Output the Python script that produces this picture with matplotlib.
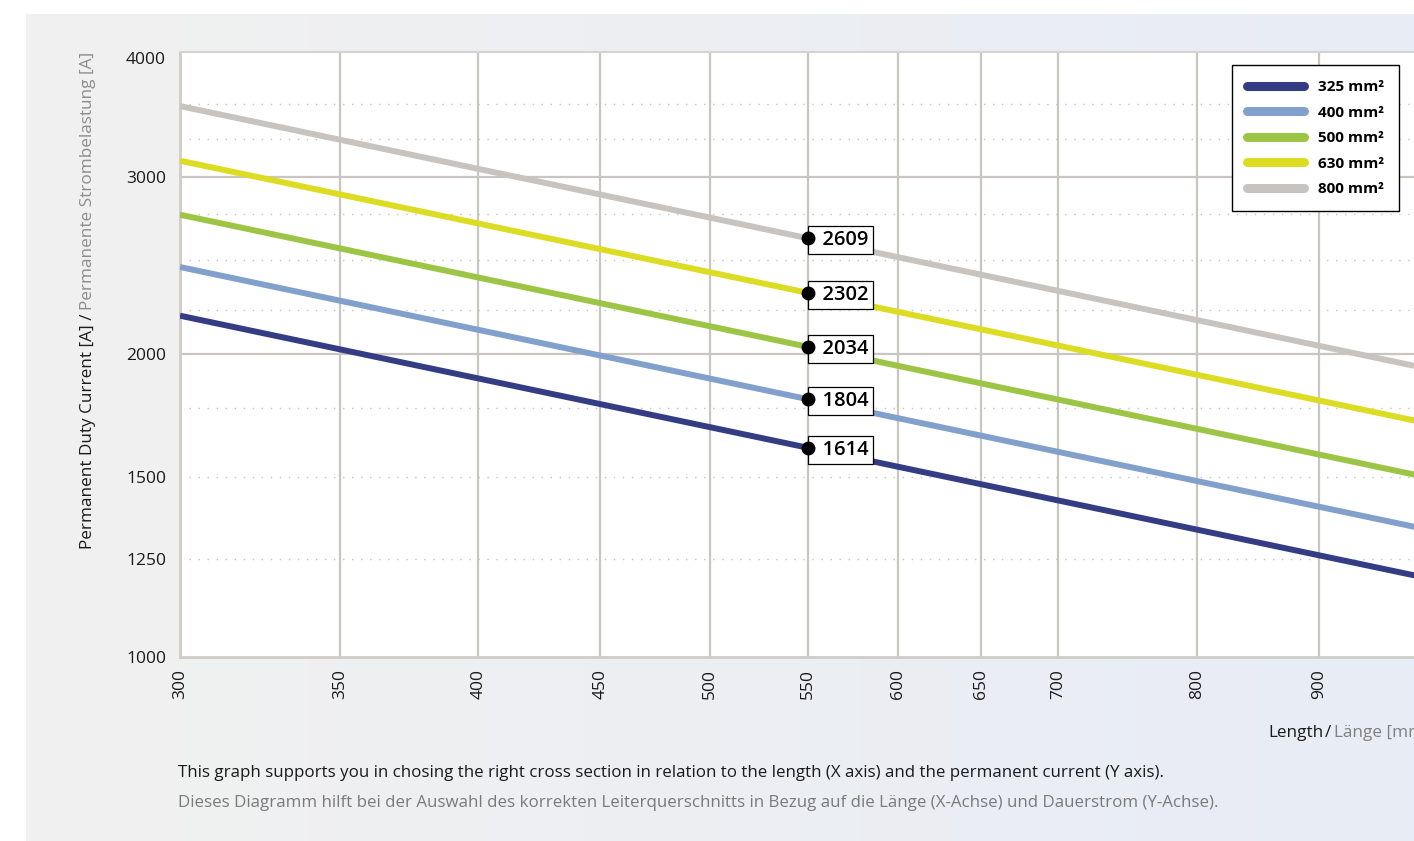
import numpy as np
import matplotlib
matplotlib.use('Agg')
import matplotlib.pyplot as plt
from matplotlib.ticker import FixedLocator, FixedFormatter, NullLocator

plt.rcParams['font.family'] = ['Open Sans', 'DejaVu Sans']

# ---------------- data ----------------
lengths = [300, 550, 1000]
sections = ['325 mm²', '400 mm²', '500 mm²', '630 mm²', '800 mm²']
curr_325 = [2185, 1614, 1197]
curr_400 = [2443, 1804, 1338]
curr_500 = [2754, 2034, 1508]
curr_630 = [3117, 2302, 1707]
curr_800 = [3533, 2609, 1935]
series = [curr_325, curr_400, curr_500, curr_630, curr_800]
colors = ['#343d84', '#82a0cc', '#9cc545', '#dcdc22', '#c8c3bf']

marked_length = 550
marked_values = [1614, 1804, 2034, 2302, 2609]

x_ticks = [300, 350, 400, 450, 500, 550, 600, 650, 700, 800, 900]
x_tick_labels = [str(v) for v in x_ticks]
y_ticks = [1000, 1250, 1510, 2000, 3000, 4000]
y_tick_labels = ['1000', '1250', '1500', '2000', '3000', '4000']
y_solid_grid = [2000, 3000]
y_dotted_grid = [1250, 1510, 1767, 2213, 2481, 2757, 3277, 3548]

# ---------------- figure ----------------
W, H = 1414, 841
fig = plt.figure(figsize=(W / 100, H / 100), dpi=100)
fig.patch.set_facecolor('white')

# gradient background panel
bg = fig.add_axes([26 / W, 0, 1 - 26 / W, 1 - 14 / H])
g = np.linspace(0, 1, 256)
c0 = np.array([241, 241, 240]) / 255
c1 = np.array([232, 236, 246]) / 255
img = c0[None, None, :] * (1 - g[None, :, None]) + c1[None, None, :] * g[None, :, None]
bg.imshow(img, aspect='auto', extent=[0, 1, 0, 1])
bg.axis('off')
bg.set_zorder(-10)

ax = fig.add_axes([180 / W, (H - 656.7) / H, 1248 / W, (656.7 - 51.9) / H])
ax.set_zorder(1)
ax.set_facecolor('white')
ax.set_xscale('log')
ax.set_yscale('log')
ax.set_xlim(300, 1000)
ax.set_ylim(1000, 4000)

ax.xaxis.set_major_locator(FixedLocator(x_ticks))
ax.xaxis.set_major_formatter(FixedFormatter(x_tick_labels))
ax.xaxis.set_minor_locator(NullLocator())
ax.yaxis.set_major_locator(FixedLocator(y_ticks))
ax.yaxis.set_major_formatter(FixedFormatter(y_tick_labels))
ax.yaxis.set_minor_locator(NullLocator())
ax.tick_params(axis='both', length=0, labelsize=12.5, colors='#1a1a1a')
ax.tick_params(axis='y', pad=10)
ax.tick_params(axis='x', pad=9, labelrotation=90)
for lab in ax.get_yticklabels():
    if lab.get_text() == '4000':
        lab.set_va('top')

# grid
for xv in x_ticks:
    ax.axvline(xv, color='#c9c5c1', lw=1.6, zorder=1)
for yv in y_solid_grid:
    ax.axhline(yv, color='#c9c5c1', lw=1.6, zorder=1)
for yv in y_dotted_grid:
    ax.axhline(yv, color='#c4c4c4', lw=1.0, ls=(0, (1, 5.5)), zorder=1)

for side in ['left', 'bottom']:
    ax.spines[side].set_color('#d0ccc8')
    ax.spines[side].set_linewidth(2)
ax.spines['top'].set_color('#d6d3d0')
ax.spines['top'].set_linewidth(1.5)
ax.spines['right'].set_visible(False)

# lines
for vals, col, name in zip(series, colors, sections):
    ax.plot(lengths, vals, color=col, lw=4.3, solid_capstyle='butt', label=name, zorder=3)

# markers + value boxes
for v in marked_values:
    ax.annotate('  ' + str(v), (marked_length, v), xytext=(2.9, -1.5),
                textcoords='offset points', ha='left', va='center',
                fontsize=14.5, fontweight='semibold', color='black',
                bbox=dict(boxstyle='square,pad=0.2', fc='white', ec='black', lw=0.9),
                zorder=5)
    ax.plot([marked_length], [v], 'o', color='black', ms=9, zorder=6)

# legend
leg = ax.legend(loc='upper left', bbox_to_anchor=(1232 / W, 1 - 65 / H),
                bbox_transform=fig.transFigure, borderaxespad=0,
                fontsize=11, frameon=True, fancybox=False, framealpha=1,
                edgecolor='black', handlelength=3.7, handletextpad=0.92,
                labelspacing=0.75, borderpad=1.0)
leg.get_frame().set_linewidth(1.0)
for t in leg.get_texts():
    t.set_fontweight('bold')
for ln in leg.get_lines():
    ln.set_linewidth(6.5)
    ln.set_solid_capstyle('round')

# y-axis label (two colours)
fig.canvas.draw()
r = fig.canvas.get_renderer()
t1 = fig.text(88 / W, 1 - 549 / H, 'Permanent Duty Current [A] /', rotation=90,
              ha='center', va='bottom', fontsize=12.3, color='#1a1a1a')
bb = t1.get_window_extent(renderer=r)
fig.text(88 / W, (bb.y1 + 4) / H, 'Permanente Strombelastung [A]', rotation=90,
         ha='center', va='bottom', fontsize=12.3, color='#8c8c8c')

# x-axis label (two colours)
tx = fig.text(1268 / W, 1 - 733 / H, 'Length', ha='left', va='center',
              fontsize=12.3, color='#1a1a1a')
bb = tx.get_window_extent(renderer=r)
ts = fig.text((bb.x1 + 2) / W, 1 - 733 / H, '/', ha='left', va='center',
              fontsize=12.3, color='#1a1a1a')
bb = ts.get_window_extent(renderer=r)
fig.text((bb.x1 + 2) / W, 1 - 733 / H, 'Länge [mm]', ha='left', va='center',
         fontsize=12.3, color='#808080')

# caption
fig.text(178 / W, 1 - 773 / H,
         'This graph supports you in chosing the right cross section in relation to the length (X axis) and the permanent current (Y axis).',
         ha='left', va='center', fontsize=12.2, color='#1a1a1a')
fig.text(178 / W, 1 - 803 / H,
         'Dieses Diagramm hilft bei der Auswahl des korrekten Leiterquerschnitts in Bezug auf die Länge (X-Achse) und Dauerstrom (Y-Achse).',
         ha='left', va='center', fontsize=12.2, color='#7a7a7a')

fig.savefig('out.png', dpi=100, facecolor=fig.get_facecolor())
